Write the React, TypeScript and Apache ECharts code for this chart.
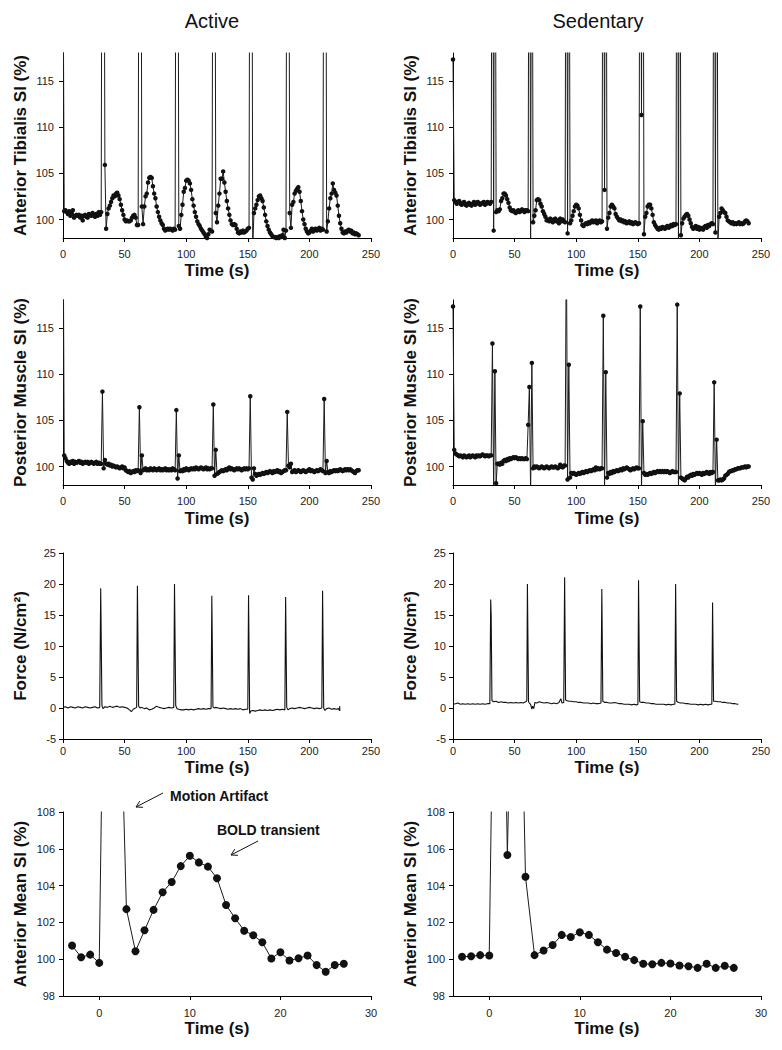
import React, { useEffect, useRef } from "react";
import * as echarts from "echarts";

const FONT = "'Liberation Sans', Arial, Helvetica, sans-serif";

// ---------- Anterior tibialis SI (%), 1 s samples, t = 0..240 ----------
const atActive = [
  130,
  100.9, 101.0, 100.8, 100.6, 100.9, 100.4, 100.6, 101.0, 100.2, 100.4, 100.5, 100.4, 100.5, 100.2, 100.4, 99.9, 100.4, 100.5, 100.3, 100.2, 100.6, 100.5, 100.4, 100.7, 100.5, 100.3, 100.6, 100.4, 100.8, 100.5,
  100.8, 160, 160, 105.9, 99.0, 100.6, 101.2, 101.5, 101.9, 102.3, 102.6, 102.5, 102.8, 102.9, 102.6, 102.2, 101.6, 101.0, 100.5, 100.0, 99.8, 99.9, 99.8, 99.8, 99.9, 100.2, 100.4, 100.5, 100.2, 99.4,
  99.4, 160, 160, 101.4, 99.5, 101.4, 102.5, 102.8, 104.0, 104.5, 104.6, 104.5, 103.6, 102.8, 102.3, 101.4, 100.8, 100.3, 99.9, 99.6, 99.4, 99.0, 98.8, 98.9, 99.0, 98.9, 99.0, 98.9, 98.8, 99.0,
  98.9, 160, 160, 99.3, 99.0, 100.5, 101.6, 103.0, 103.4, 104.2, 104.3, 104.2, 103.9, 103.2, 102.2, 101.5, 100.8, 100.3, 99.8, 99.5, 99.3, 99.0, 98.8, 98.6, 98.4, 98.1, 98.0, 98.4, 98.9, 98.8,
  98.7, 160, 160, 100.7, 99.7, 101.5, 102.8, 104.4, 104.4, 105.2, 104.0, 103.0, 102.0, 101.2, 100.5, 99.9, 99.5, 99.4, 99.5, 99.4, 99.0, 98.6, 98.5, 98.7, 98.6, 98.8, 98.6, 98.7, 98.8, 99.0,
  99.1, 160, 160, 97.0, 100.7, 101.2, 101.6, 102.1, 102.5, 102.6, 102.3, 102.0, 101.3, 100.5, 99.8, 99.3, 98.9, 98.6, 98.4, 98.2, 98.1, 98.1, 98.0, 98.1, 98.0, 98.2, 98.1, 98.3, 98.9, 98.0,
  98.8, 160, 160, 100.7, 99.1, 101.6, 101.9, 102.8, 103.1, 103.3, 103.5, 103.0, 102.0, 100.9, 100.0, 99.5, 99.0, 98.7, 98.5, 98.6, 98.8, 99.0, 98.7, 98.9, 99.0, 98.8, 98.9, 99.1, 98.8, 99.0,
  98.9, 160, 160, 98.7, 99.8, 101.2, 102.3, 102.8, 103.9, 103.2, 102.9, 102.6, 101.5, 100.4, 99.6, 99.0, 98.6, 98.5, 98.7, 98.6, 98.8, 98.9, 98.7, 98.8, 98.5, 98.6, 98.4, 98.5, 98.4, 98.3,
];

const atSedentary = [
  117.3,
  102.1, 101.9, 101.7, 101.9, 102.0, 101.7, 101.6, 101.8, 101.9, 101.6, 101.5, 101.7, 101.8, 101.6, 101.5, 101.7, 101.9, 101.6, 101.7, 101.9, 101.8, 101.6, 101.7, 101.8, 101.9, 101.6, 101.7, 101.9, 101.8, 101.7,
  101.9, 160, 98.8, 160, 100.8, 101.0, 100.9, 101.1, 102.0, 102.3, 102.8, 102.8, 102.6, 102.2, 101.8, 101.3, 101.0, 100.9, 101.0, 100.8, 100.7, 100.9, 101.0, 100.8, 100.9, 101.1, 101.0, 100.8, 101.0, 101.0,
  100.9, 160, 96.0, 160, 99.7, 100.4, 101.0, 102.1, 102.2, 102.1, 101.7, 101.4, 100.9, 100.6, 100.3, 99.9, 100.0, 99.8, 100.1, 99.9, 99.7, 100.0, 100.1, 99.8, 99.9, 99.6, 100.1, 99.8, 100.0, 99.8,
  99.7, 160, 98.5, 160, 99.6, 99.9, 100.4, 100.9, 101.4, 101.6, 101.5, 101.2, 100.5, 99.9, 99.4, 99.3, 99.5, 99.6, 99.5, 99.7, 99.6, 99.8, 99.9, 99.7, 99.8, 99.9, 99.6, 99.8, 99.9, 99.7,
  99.8, 160, 103.2, 160, 99.0, 100.2, 100.7, 101.4, 101.6, 101.4, 101.2, 100.6, 100.3, 100.1, 99.9, 100.0, 99.8, 99.9, 99.7, 99.8, 99.6, 99.7, 99.8, 99.6, 99.7, 99.5, 99.6, 99.7, 99.6, 99.5,
  99.6, 160, 111.3, 160, 98.4, 100.3, 100.7, 101.4, 101.6, 101.6, 101.2, 100.5, 99.7, 99.4, 99.2, 99.0, 98.9, 99.1, 99.0, 99.2, 99.1, 99.0, 99.2, 99.3, 99.1, 99.2, 99.4, 99.3, 99.5, 99.4,
  99.5, 160, 97.0, 160, 98.3, 99.6, 100.1, 100.3, 100.5, 100.6, 100.4, 100.0, 99.6, 99.2, 99.0, 99.1, 99.3, 99.0, 99.2, 98.9, 99.1, 99.0, 98.9, 99.2, 99.3, 99.1, 99.4, 99.3, 99.5, 99.6,
  99.5, 160, 98.6, 160, 97.5, 100.3, 100.7, 101.2, 101.0, 100.8, 100.7, 100.3, 99.9, 99.8, 99.7, 99.6, 99.7, 99.5, 99.6, 99.5, 99.6, 99.7, 99.5, 99.6, 99.5, 99.6, 99.8, 99.9, 99.8, 99.6,
];

// ---------- Posterior muscle SI (%), 1 s samples, t = 0..240 ----------
const pmActive = [
  130,
  101.2, 100.9, 100.6, 100.4, 100.3, 100.5, 100.4, 100.6, 100.3, 100.5, 100.4, 100.5, 100.6, 100.4, 100.5, 100.3, 100.4, 100.5, 100.4, 100.5, 100.3, 100.4, 100.5, 100.4, 100.3, 100.4, 100.5, 100.3, 100.4, 100.3,
  100.3, 108.1, 99.8, 100.7, 100.3, 100.2, 100.3, 100.1, 100.2, 100.0, 100.1, 100.0, 99.9, 100.0, 99.9, 99.8, 99.9, 100.0, 99.8, 99.9, 99.6, 99.5, 99.4, 99.5, 99.3, 99.4, 99.5, 99.4, 99.6, 99.5,
  99.6, 106.4, 99.3, 101.2, 99.6, 99.7, 99.8, 99.6, 99.7, 99.6, 99.8, 99.7, 99.6, 99.8, 99.7, 99.6, 99.7, 99.8, 99.6, 99.7, 99.6, 99.7, 99.8, 99.6, 99.7, 99.6, 99.7, 99.6, 99.8, 99.7,
  99.6, 106.1, 98.7, 101.2, 99.5, 99.6, 99.5, 99.7, 99.6, 99.8, 99.7, 99.6, 99.7, 99.8, 99.7, 99.8, 99.7, 99.9, 99.8, 99.7, 99.8, 99.9, 99.8, 99.7, 99.8, 99.9, 99.7, 99.8, 99.7, 99.8,
  99.8, 106.7, 99.0, 101.8, 99.2, 99.3, 99.4, 99.5, 99.6, 99.5, 99.6, 99.7, 99.6, 99.8, 99.9, 99.7, 99.8, 99.7, 99.6, 99.7, 99.8, 99.7, 99.8, 99.7, 99.6, 99.7, 99.8, 99.7, 99.8, 99.7,
  99.8, 107.6, 98.8, 98.6, 99.8, 99.2, 99.0, 99.1, 99.2, 99.1, 99.2, 99.3, 99.2, 99.3, 99.4, 99.3, 99.4, 99.5, 99.4, 99.3, 99.5, 99.4, 99.5, 99.6, 99.4, 99.5, 99.3, 99.4, 99.5, 99.6,
  99.6, 105.9, 100.1, 99.9, 100.3, 99.4, 99.5, 99.6, 99.4, 99.5, 99.6, 99.5, 99.4, 99.5, 99.6, 99.5, 99.4, 99.5, 99.6, 99.7, 99.5, 99.6, 99.5, 99.4, 99.5, 99.6, 99.5, 99.6, 99.7, 99.6,
  99.5, 107.3, 99.3, 100.6, 99.4, 99.3, 99.5, 99.4, 99.5, 99.6, 99.5, 99.6, 99.5, 99.6, 99.7, 99.6, 99.5, 99.6, 99.7, 99.6, 99.7, 99.6, 99.7, 99.6, 99.5, 99.4, 99.3, 99.5, 99.6, 99.6,
];

const pmSedentary = [
  117.3,
  101.8, 101.4, 101.3, 101.2, 101.1, 101.2, 101.1, 101.0, 101.2, 101.1, 101.0, 101.1, 101.2, 101.0, 101.1, 101.2, 101.1, 101.0, 101.2, 101.1, 101.2, 101.1, 101.2, 101.3, 101.2, 101.1, 101.2, 101.2, 101.1, 101.2,
  101.2, 113.3, 97.0, 110.3, 98.2, 100.3, 100.3, 100.2, 100.4, 100.3, 100.6, 100.7, 100.6, 100.8, 100.7, 100.9, 100.8, 100.9, 101.0, 100.9, 101.0, 100.9, 100.8, 100.9, 100.8, 100.9, 100.8, 100.8, 100.9, 100.8,
  104.5, 108.6, 97.0, 111.2, 99.8, 100.0, 99.9, 100.0, 99.9, 99.8, 99.9, 100.0, 99.9, 99.8, 99.9, 100.0, 99.9, 99.8, 99.9, 100.0, 99.9, 99.9, 100.0, 99.9, 99.8, 99.9, 100.2, 100.0, 99.9, 100.1,
  100.1, 125, 98.6, 111.0, 98.8, 99.3, 99.2, 99.3, 99.2, 99.1, 99.2, 99.3, 99.2, 99.3, 99.4, 99.3, 99.4, 99.5, 99.4, 99.5, 99.6, 99.5, 99.6, 99.7, 99.6, 99.9, 99.7, 99.8, 99.7, 99.8,
  99.8, 116.3, 97.5, 110.2, 98.8, 99.3, 99.2, 99.4, 99.3, 99.5, 99.4, 99.5, 99.6, 99.5, 99.6, 99.7, 99.6, 99.8, 99.7, 99.8, 99.9, 99.8, 99.7, 99.6, 99.7, 99.8, 99.7, 99.8, 99.9, 99.8,
  99.8, 117.3, 97.5, 104.9, 99.3, 99.1, 99.2, 99.1, 99.2, 99.3, 99.2, 99.3, 99.4, 99.3, 99.4, 99.5, 99.4, 99.5, 99.4, 99.5, 99.4, 99.5, 99.4, 99.5, 99.4, 99.3, 99.4, 99.5, 99.4, 99.4,
  99.4, 117.5, 97.5, 107.9, 98.8, 98.7, 98.6, 98.5, 98.7, 98.9, 98.8, 99.0, 99.1, 99.0, 99.2, 99.1, 99.2, 99.3, 99.2, 99.3, 99.2, 99.1, 99.3, 99.2, 99.3, 99.4, 99.3, 99.2, 99.4, 99.3,
  99.4, 109.1, 97.5, 102.9, 98.5, 98.5, 98.6, 98.5, 98.6, 98.7, 99.0, 99.1, 99.2, 99.4, 99.5, 99.5, 99.6, 99.6, 99.7, 99.7, 99.8, 99.8, 99.8, 99.9, 99.9, 99.9, 100.0, 99.9, 100.0, 100.0,
];

// ---------- Force (N/cm²), [time s, force] ----------
const forceActive = [
  [0, 0.1], [2, 0.2], [4, 0.0], [6, 0.2], [8, 0.1], [10, 0.0], [12, 0.2], [14, 0.1], [16, 0.0], [18, 0.2], [20, 0.1], [22, 0.0], [24, 0.1], [26, 0.2], [28, 0.0],
  [29.8, 0.1], [30.6, 19.3], [31.6, 0.4], [32.5, -0.1], [34, 0.2], [36, 0.1], [38, 0.3], [40, 0.1], [42, 0.2], [44, 0.3], [46, 0.1], [48, 0.2], [50, 0.1], [52, 0.0], [54, -0.3], [55.5, -0.6], [57, -0.2],
  [59.8, 0.1], [60.4, 19.7], [61.4, 0.3], [62.5, 0.0], [64, 0.1], [66, -0.1], [68, 0.0], [70, -0.3], [72, -0.2], [74, 0.0], [76, 0.3], [78, 0.1], [80, 0.0], [82, -0.1], [84, 0.0], [86, 0.1], [88, 0.0],
  [89.9, 0.1], [90.5, 20.0], [91.5, 0.4], [92.5, -0.1], [94, -0.2], [96, -0.3], [98, -0.3], [100, -0.2], [102, -0.3], [104, -0.2], [106, -0.3], [108, -0.2], [110, -0.1], [112, -0.2], [114, -0.1], [116, -0.2], [118, -0.1],
  [120.2, -0.1], [120.8, 18.1], [121.7, 0.2], [122.6, 0.0], [124, 0.1], [126, 0.0], [128, -0.1], [130, 0.0], [132, -0.1], [134, -0.2], [136, -0.1], [138, -0.2], [140, -0.1], [142, -0.2], [144, -0.1], [146, -0.3], [148, -0.2],
  [150, -0.2], [150.6, 18.2], [151.5, -0.9], [152.5, -0.5], [154, -0.4], [156, -0.5], [158, -0.4], [160, -0.3], [162, -0.4], [164, -0.3], [166, -0.4], [168, -0.3], [170, -0.4], [172, -0.3], [174, -0.2], [176, -0.3], [178, -0.2],
  [180.1, -0.3], [180.7, 17.9], [181.6, 0.1], [182.6, -0.3], [184, -0.1], [186, 0.0], [188, -0.1], [190, 0.0], [192, 0.1], [194, 0.0], [196, -0.1], [198, 0.0], [200, 0.1], [202, 0.0], [204, -0.1], [206, 0.0], [208, -0.1],
  [210.1, 0.0], [210.7, 18.9], [211.6, 0.0], [212.6, -0.4], [214, -0.1], [216, 0.0], [218, -0.2], [220, -0.1], [222, -0.2], [223.5, -0.1], [224.5, -0.4], [224.6, 0.3], [224.7, -0.5],
];

const forceSedentary = [
  [0, 0.6], [2, 0.7], [4, 0.8], [6, 0.6], [8, 0.7], [10, 0.6], [12, 0.7], [14, 0.6], [16, 0.7], [18, 0.6], [20, 0.7], [22, 0.6], [24, 0.7], [26, 0.6], [28, 0.7],
  [29.9, 0.7], [30.6, 17.5], [31.0, 14.8], [31.6, 1.2], [33, 1.0], [35, 1.1], [37, 0.9], [39, 1.0], [41, 0.9], [43, 0.9], [45, 0.8], [47, 0.9], [49, 0.8], [51, 0.9], [53, 0.8], [55, 0.9], [57, 0.8], [59, 1.0],
  [59.9, 1.2], [60.4, 20.0], [61.3, 1.0], [62, 0.8], [63, 0.6], [64, -0.2], [64.6, 0.3], [65.5, -0.1], [66.5, 0.9], [68, 0.8], [70, 1.0], [72, 0.9], [74, 0.8], [76, 0.9], [78, 0.8], [80, 0.7], [82, 0.8], [84, 0.7], [86, 0.9], [87.5, 1.5], [88.5, 0.8],
  [89.9, 0.9], [90.6, 21.1], [91.4, 1.3], [92, 1.2], [94, 1.1], [96, 1.1], [98, 1.0], [100, 1.0], [102, 0.9], [104, 0.9], [106, 0.8], [108, 0.8], [110, 0.8], [112, 0.7], [114, 0.8], [116, 0.7], [118, 0.7],
  [120.1, 0.8], [120.8, 19.2], [121.6, 1.1], [123, 0.9], [125, 0.9], [127, 0.8], [129, 0.8], [131, 0.9], [133, 0.8], [135, 0.7], [137, 0.7], [139, 0.6], [141, 0.6], [143, 0.6], [145, 0.5], [147, 0.6], [149, 0.5],
  [150.1, 0.6], [150.6, 20.6], [151.5, 1.0], [153, 0.9], [155, 0.9], [157, 0.8], [159, 0.8], [161, 0.7], [163, 0.7], [165, 0.6], [167, 0.6], [169, 0.6], [171, 0.6], [173, 0.5], [175, 0.6], [177, 0.5], [179, 0.6],
  [180.1, 0.6], [180.7, 20.0], [181.5, 1.1], [183, 0.9], [185, 0.8], [187, 0.8], [189, 0.7], [191, 0.7], [193, 0.6], [195, 0.6], [197, 0.6], [199, 0.5], [201, 0.6], [203, 0.5], [205, 0.6], [207, 0.5], [209, 0.6],
  [210.1, 0.6], [210.7, 17.0], [211.5, 1.1], [213, 1.1], [215, 1.0], [217, 1.0], [219, 0.9], [221, 0.9], [223, 0.8], [225, 0.8], [227, 0.7], [229, 0.7], [231, 0.6], [231.6, 0.6],
];

// ---------- Event-averaged anterior mean SI (%), t = -3..27 s ----------
const meanTime = [-3, -2, -1, 0, 1, 2, 3, 4, 5, 6, 7, 8, 9, 10, 11, 12, 13, 14, 15, 16, 17, 18, 19, 20, 21, 22, 23, 24, 25, 26, 27];
const meanActive = [
  100.74, 100.11, 100.25, 99.8, 135, 121, 102.72, 100.43, 101.57, 102.68, 103.64, 104.2, 105.06, 105.62, 105.26, 105.03,
  104.4, 102.95, 102.23, 101.55, 101.3, 100.92, 100.04, 100.38, 99.93, 100.05, 100.2, 99.68, 99.32, 99.68, 99.75,
];
const meanSedentary = [
  100.13, 100.16, 100.22, 100.2, 135, 105.66, 128, 104.48, 100.22, 100.47, 100.77, 101.32, 101.21, 101.46, 101.32, 100.92,
  100.52, 100.34, 100.13, 99.95, 99.75, 99.73, 99.8, 99.77, 99.66, 99.62, 99.53, 99.75, 99.53, 99.64, 99.53,
];

const yTitles = ["Anterior Tibialis SI (%)", "Posterior Muscle SI (%)", "Force (N/cm²)", "Anterior Mean SI (%)"];
const columnTitles = ["Active", "Sedentary"];
const siTicks = [100, 105, 110, 115];
const meanXTicks = [0, 10, 20, 30];

const colLeft = [63, 453];
const rowLayout = [
  { top: 53, height: 185, xLabelMargin: 10, xNameGap: 24, yLabelMargin: 9 },
  { top: 300, height: 185, xLabelMargin: 10, xNameGap: 25, yLabelMargin: 9 },
  { top: 553, height: 186, xLabelMargin: 6, xNameGap: 20, yLabelMargin: 7 },
  { top: 812, height: 184, xLabelMargin: 11, xNameGap: 24, yLabelMargin: 8 },
];

const indexed = (arr: number[]) => arr.map((v, i) => [i, v]);
const paired = (ts: number[], vs: number[]) => ts.map((t, i) => [t, vs[i]]);

function buildOption() {
  const grids: any[] = [];
  const xAxes: any[] = [];
  const yAxes: any[] = [];
  const series: any[] = [];

  const lineAxis = { show: true, onZero: false, lineStyle: { color: "#000", width: 1 } };
  const labelStyle = { color: "#222", fontSize: 11, fontFamily: FONT };
  const nameStyle = { color: "#111", fontSize: 17, fontWeight: "bold", fontFamily: FONT };

  const panelData: any[] = [
    indexed(atActive), indexed(atSedentary),
    indexed(pmActive), indexed(pmSedentary),
    forceActive, forceSedentary,
    paired(meanTime, meanActive), paired(meanTime, meanSedentary),
  ];

  for (let p = 0; p < 8; p++) {
    const r = Math.floor(p / 2);
    const c = p % 2;
    const L = rowLayout[r];
    grids.push({ left: colLeft[c], top: L.top, width: 308, height: L.height, outerBoundsMode: "none" });

    const xBase: any = {
      type: "value",
      gridIndex: p,
      name: "Time (s)",
      nameLocation: "middle",
      nameGap: L.xNameGap,
      nameTextStyle: nameStyle,
      axisLine: lineAxis,
      axisTick: { show: true, length: 4, lineStyle: { color: "#000" } },
      axisLabel: { ...labelStyle, margin: L.xLabelMargin },
      splitLine: { show: false },
    };
    if (r < 3) {
      Object.assign(xBase, { min: 0, max: 250, interval: 50 });
    } else {
      Object.assign(xBase, { min: -4, max: 30 });
      xBase.axisLabel = { ...xBase.axisLabel, customValues: meanXTicks };
      xBase.axisTick = { ...xBase.axisTick, customValues: meanXTicks };
    }
    xAxes.push(xBase);

    const yBase: any = {
      type: "value",
      gridIndex: p,
      name: yTitles[r],
      nameLocation: "middle",
      nameRotate: 90,
      nameGap: 34,
      nameTextStyle: nameStyle,
      axisLine: lineAxis,
      axisTick: { show: true, length: 4, lineStyle: { color: "#000" } },
      axisLabel: { ...labelStyle, margin: L.yLabelMargin },
      splitLine: { show: false },
    };
    if (r < 2) {
      Object.assign(yBase, { min: 98, max: 118 });
      yBase.axisLabel = { ...yBase.axisLabel, customValues: siTicks };
      yBase.axisTick = { ...yBase.axisTick, customValues: siTicks };
    } else if (r === 2) {
      Object.assign(yBase, { min: -5, max: 25, interval: 5 });
    } else {
      Object.assign(yBase, { min: 98, max: 108, interval: 2 });
    }
    yAxes.push(yBase);

    const s: any = {
      type: "line",
      xAxisIndex: p,
      yAxisIndex: p,
      data: panelData[p],
      clip: true,
      silent: true,
      lineStyle: { color: "#1c1c1c", width: 1 },
      itemStyle: { color: "#111", borderWidth: 0 },
    };
    if (r < 2) {
      Object.assign(s, { symbol: "circle", symbolSize: 4.5, showSymbol: true });
    } else if (r === 2) {
      Object.assign(s, { showSymbol: false, symbol: "none", lineStyle: { color: "#111", width: 1.1 } });
    } else {
      Object.assign(s, { symbol: "circle", symbolSize: 8, showSymbol: true });
    }
    series.push(s);
  }

  const textFont = (size: number, bold = false) => `${bold ? "bold " : ""}${size}px ${FONT}`;

  const graphic: any[] = [
    { type: "text", x: 212, y: 21, style: { text: columnTitles[0], font: textFont(20), fill: "#111", align: "center", verticalAlign: "middle" } },
    { type: "text", x: 598, y: 21, style: { text: columnTitles[1], font: textFont(20), fill: "#111", align: "center", verticalAlign: "middle" } },
    { type: "text", x: 170, y: 796, style: { text: "Motion Artifact", font: textFont(14, true), fill: "#111", align: "left", verticalAlign: "middle" } },
    { type: "line", shape: { x1: 163, y1: 793, x2: 136, y2: 807 }, style: { stroke: "#111", lineWidth: 1 } },
    { type: "polyline", shape: { points: [[143, 807.3], [136, 807], [139.8, 801.1]] }, style: { stroke: "#111", lineWidth: 1, fill: "none" } },
    { type: "text", x: 217, y: 830, style: { text: "BOLD transient", font: textFont(14, true), fill: "#111", align: "left", verticalAlign: "middle" } },
    { type: "line", shape: { x1: 258, y1: 841, x2: 231, y2: 855 }, style: { stroke: "#111", lineWidth: 1 } },
    { type: "polyline", shape: { points: [[238, 855.3], [231, 855], [234.8, 849.1]] }, style: { stroke: "#111", lineWidth: 1, fill: "none" } },
  ];

  return {
    animation: false,
    backgroundColor: "#ffffff",
    textStyle: { fontFamily: FONT },
    grid: grids,
    xAxis: xAxes,
    yAxis: yAxes,
    series,
    graphic,
  };
}

export default function App() {
  const ref = useRef<HTMLDivElement>(null);
  useEffect(() => {
    if (!ref.current) return;
    const chart = echarts.init(ref.current, null, { renderer: "svg", width: 782, height: 1050 });
    chart.setOption(buildOption() as any);
    return () => chart.dispose();
  }, []);
  return (
    <div
      ref={ref}
      style={{ position: "absolute", left: 0, top: 0, width: 782, height: 1050, background: "#fff" }}
    />
  );
}
